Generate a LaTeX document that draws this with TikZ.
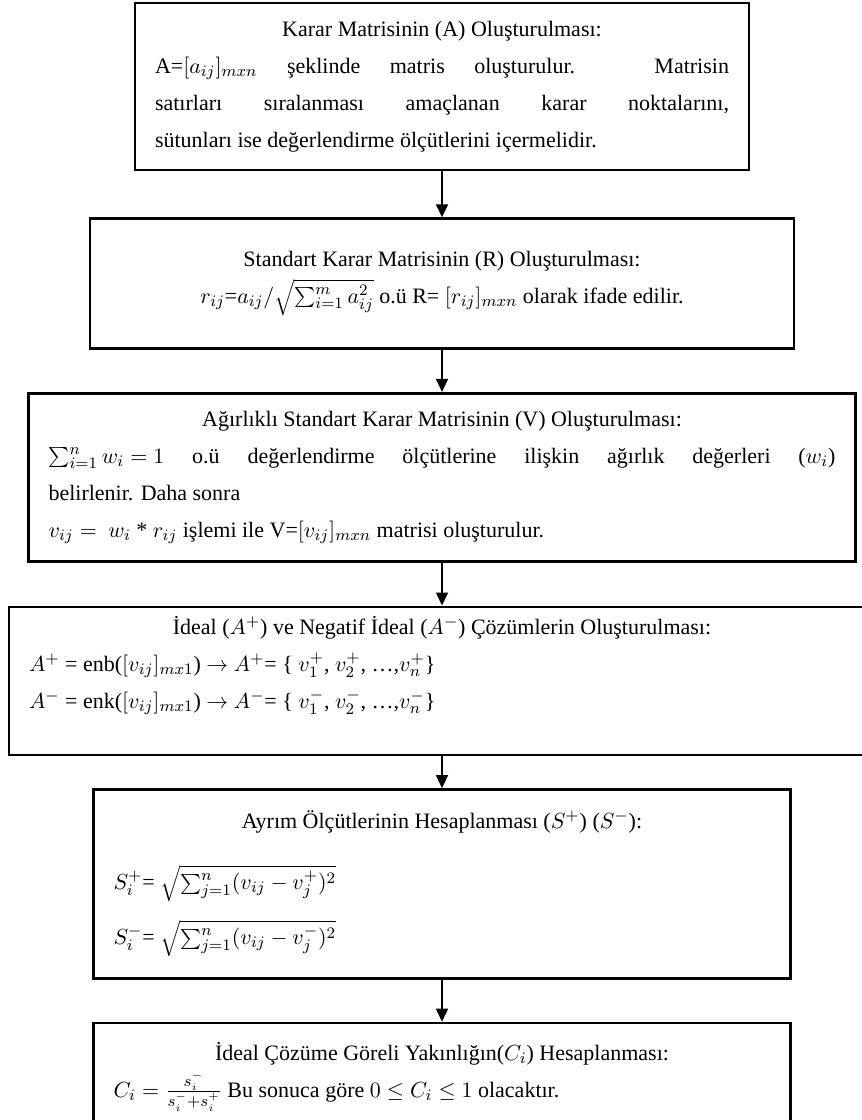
\documentclass[tikz,border=0pt]{standalone}
\usepackage{fontspec}
\setmainfont{Liberation Serif}
\usepackage{tikz}
\usetikzlibrary{positioning,arrows.meta}
\setlength{\parindent}{0pt}
\newcommand{\steptitle}[1]{{\centering #1\par}}

\begin{document}
\begin{tikzpicture}[x=0.5pt, y=-0.5pt,
  stepbox/.style={draw, line width=1.3pt, align=justify, inner xsep=10pt, inner ysep=3pt,
    font=\fontsize{11}{18.5}\selectfont, text width=#1},
  stepbox/.default=287pt,
  arrow/.style={-{Triangle[length=6.5pt, width=6pt]}, line width=0.8pt}]
  \useasboundingbox (0,0) rectangle (862,1120);
  \node[stepbox=287pt, minimum height=83.5pt] (mat) at (442,86.5) {%
    \steptitle{Karar Matrisinin (A) Oluşturulması:}
    A=$[a_{ij}]_{mxn}$ şeklinde matris oluşturulur. Matrisin\linebreak
    satırları sıralanması amaçlanan karar noktalarını,\linebreak
    sütunları ise değerlendirme ölçütlerini içermelidir.};
  \node[stepbox=332pt, minimum height=65pt, below=23pt of mat] (std) {%
    {\centering Standart Karar Matrisinin (R) Oluşturulması:\\
    $r_{ij}$=$a_{ij}/\sqrt{\sum_{i=1}^{m} a_{ij}^2}$ o.ü R= $[r_{ij}]_{mxn}$ olarak ifade edilir.\par}};
  \node[stepbox=393.5pt, minimum height=84pt, below=21pt of std] (wgt) {%
    \steptitle{Ağırlıklı Standart Karar Matrisinin (V) Oluşturulması:}
    \mbox{$\sum_{i=1}^{n} w_i = 1$} o.ü değerlendirme ölçütlerine ilişkin ağırlık değerleri \mbox{($w_i$)}\linebreak
    belirlenir. Daha sonra\\
    \mbox{$v_{ij} =\ w_i$} * \mbox{$r_{ij}$} işlemi ile V=\mbox{$[v_{ij}]_{mxn}$} matrisi oluşturulur.};
  \node[stepbox=413pt, minimum height=74pt, below=21.5pt of wgt] (ideal) {%
    \steptitle{İdeal ($A^{+}$) ve Negatif İdeal ($A^{-}$) Çözümlerin Oluşturulması:}
    \raggedright
    $A^{+}$ = enb($[v_{ij}]_{mx1}$) $\rightarrow$ $A^{+}$= \{ $v_1^{+}$, $v_2^{+}$, …,$v_n^{+}$\}\\
    $A^{-}$ = enk($[v_{ij}]_{mx1}$) $\rightarrow$ $A^{-}$= \{ $v_1^{-}$, $v_2^{-}$, …,$v_n^{-}$\}\par
    \mbox{}};
  \node[stepbox=328.5pt, minimum height=94.5pt, below=16pt of ideal] (sep) {%
    \steptitle{Ayrım Ölçütlerinin Hesaplanması ($S^{+}$) ($S^{-}$):}
    \raggedright
    \vspace{12pt}
    $S_i^{+}$= $\sqrt{\sum_{j=1}^{n}(v_{ij} - v_j^{+})^2}$\\[9pt]
    $S_i^{-}$= $\sqrt{\sum_{j=1}^{n}(v_{ij} - v_j^{-})^2}$};
  \node[stepbox=328.5pt, minimum height=53.5pt, below=21pt of sep] (close) {%
    \steptitle{İdeal Çözüme Göreli Yakınlığın($C_i$) Hesaplanması:}
    \raggedright
    $C_i = \frac{s_i^{-}}{s_i^{-}+s_i^{+}}$ Bu sonuca göre $0 \leq C_i \leq 1$ olacaktır.};
  \foreach \a/\b in {mat/std, std/wgt, wgt/ideal, ideal/sep, sep/close} \draw[arrow] (\a) -- (\b);
\end{tikzpicture}
\end{document}
